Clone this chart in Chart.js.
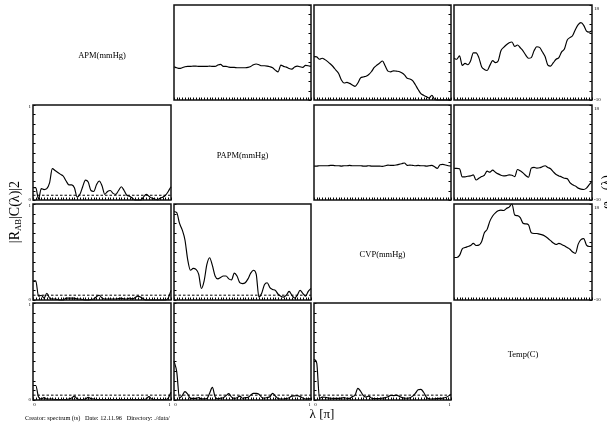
<!DOCTYPE html>
<html>
<head>
<meta charset="utf-8">
<script src="https://cdn.jsdelivr.net/npm/chart.js@4/dist/chart.umd.min.js"></script>
<style>
  html, body { margin:0; padding:0; background:#fff; }
  #wrap { position:relative; width:607px; height:423px; overflow:hidden; background:#fff; font-family:"Liberation Serif","DejaVu Serif",serif; color:#000; }
  .lbl { position:absolute; white-space:pre; line-height:1; }
  canvas { position:absolute; }
</style>
</head>
<body>
<div id="wrap"></div>
<script>
// ---------------- DATA ----------------
const variables = ["APM(mmHg)", "PAPM(mmHg)", "CVP(mmHg)", "Temp(C)"];

const lambda = [0,0.02,0.04,0.06,0.08,0.10,0.12,0.14,0.16,0.18,
                0.20,0.22,0.24,0.26,0.28,0.30,0.32,0.34,0.36,0.38,
                0.40,0.42,0.44,0.46,0.48,0.50,0.52,0.54,0.56,0.58,
                0.60,0.62,0.64,0.66,0.68,0.70,0.72,0.74,0.76,0.78,
                0.80,0.82,0.84,0.86,0.88,0.90,0.92,0.94,0.96,0.98,1.00];

const xTickLabels = ["0", "1"];
const cohTickLabels = ["1", "0"];
const phaseTickLabels = ["18", "-10"];
const cohRange = [0, 1];
const phaseRange = [-10, 18];
const sigLevel = 0.05;

// phase spectra (upper triangle)
const phaseApmPapm = [-0.2,-0.5,-0.7,-0.5,-0.2,-0.1,-0.1,0.0,0.0,-0.1,
  -0.1,-0.1,-0.1,0.0,-0.1,-0.1,0.3,0.5,-0.1,-0.1,
  -0.3,-0.4,-0.4,-0.5,-0.5,-0.5,-0.5,-0.4,-0.1,0.4,
  0.6,0.4,0.1,0.1,0.0,-0.2,-0.5,-1.2,-1.7,0.3,
  -0.1,-0.3,-0.7,-0.9,-0.3,0.0,-0.2,-0.4,0.2,0.1,
  -0.1];
const phaseApmCvp = [2.8,2.7,2.0,2.3,1.9,1.3,0.6,-0.2,-1.2,-2.2,
  -4.1,-5.0,-4.8,-5.1,-5.6,-6.0,-5.0,-3.5,-3.2,-3.0,
  -2.5,-1.6,-0.4,0.3,0.9,1.5,0.0,-1.5,-1.7,-1.4,
  -1.5,-1.6,-2.0,-2.6,-3.6,-3.8,-4.3,-5.5,-6.9,-8.1,
  -8.6,-9.0,-9.4,-8.6,-9.8,-10,-10,-10,-10,-10,
  -9.6];
const phaseApmTemp = [2.3,2.0,3.0,0.2,0.8,0.4,1.5,3.9,3.9,2.5,
  -0.2,-1.0,-1.3,0.2,1.6,1.0,1.5,4.5,5.5,6.3,
  6.9,7.1,5.8,6.2,5.4,4.5,3.2,2.3,2.5,4.5,
  5.7,5.5,4.2,2.8,0.3,0.0,1.0,2.0,2.5,4.2,
  5.0,7.6,8.4,9.0,10.8,12.2,12.8,12.0,10.3,10.0,
  10.4];
const phasePapmCvp = [0.0,0.0,0.1,0.1,0.1,0.1,0.2,0.2,0.1,0.1,
  0.0,0.1,0.1,0.2,0.1,0.1,0.1,0.1,0.0,0.0,
  0.1,0.0,0.0,0.0,0.0,-0.1,0.1,0.3,0.2,0.2,
  0.3,0.5,0.7,0.9,0.2,0.3,0.2,0.1,0.2,0.1,
  0.1,0.0,0.1,0.2,-0.2,-0.7,0.4,0.5,0.3,0.1,
  0.0];
const phasePapmTemp = [-0.7,-0.7,-0.8,-3.2,-3.2,-3.0,-2.9,-2.6,-4.1,-3.6,
  -3.1,-2.7,-1.5,-1.8,-1.2,-1.8,-2.3,-2.7,-2.9,-2.8,
  -2.6,-2.7,-3.1,-1.0,-1.4,-2.0,-2.8,-3.3,-0.6,-0.4,
  -0.6,-0.5,-0.2,0.1,-0.4,-0.8,-1.7,-2.5,-2.9,-3.2,
  -3.6,-3.7,-4.9,-5.5,-5.9,-6.5,-6.8,-6.9,-6.5,-5.5,
  -4.5];
const phaseCvpTemp = [2.4,2.4,3.0,4.9,5.3,5.6,5.9,6.5,5.9,6.0,
  7.0,9.6,10.6,13.0,14.5,15.4,16.0,16.2,16.1,16.7,
  17.1,18.0,14.8,14.6,14.0,12.4,12.2,11.9,9.6,9.4,
  9.4,9.2,9.0,8.6,8.0,7.3,6.6,6.2,6.5,6.2,
  5.8,5.3,4.8,4.0,3.6,6.3,7.6,7.9,6.0,5.6,
  5.6];

// squared coherence (lower triangle)
const cohApmPapm = [.13,.13,.01,.12,.11,.12,.18,.33,.31,.29,
  .27,.25,.20,.16,.16,.13,.03,.06,.14,.21,
  .19,.10,.09,.16,.20,.15,.06,.09,.10,.07,
  .06,.10,.14,.10,.05,.04,.02,0,0,0,
  .03,.06,.04,.02,.01,.003,.018,.03,.05,.09,
  .14];
const cohApmCvp = [.2,.2,.04,.05,.02,.07,.02,.01,.01,.005,
  0,0,.02,.02,.02,.02,.01,.01,.005,0,
  0,.005,.01,.035,.05,.02,.01,.01,.01,.01,
  .01,.015,.02,.01,.01,.02,.01,.025,.04,.03,
  .012,0,0,0,0,0,0,0,0,.02,
  .1];
const cohApmTemp = [.15,.15,.03,.01,.025,.01,.01,.01,.005,.005,
  .005,.005,.005,.01,.02,.04,.01,.005,.005,.01,
  .027,.015,.01,.005,.005,.005,.005,.005,.005,.005,
  .005,.005,.005,.005,.005,.005,.005,.005,.005,.005,
  .005,.01,.035,.01,.005,.005,.005,.005,.005,.02,
  .08];
const cohPapmCvp = [.92,.91,.80,.73,.625,.42,.31,.33,.32,.27,
  .12,.20,.37,.44,.36,.25,.22,.235,.25,.25,
  .22,.21,.28,.25,.18,.17,.18,.22,.28,.31,
  .27,.03,.07,.16,.18,.13,.11,.10,.06,.04,
  .03,.05,.09,.05,.02,.05,.10,.07,.04,.09,
  .12];
const cohPapmTemp = [.40,.29,.02,.045,.086,.06,.017,.017,.017,.025,
  .01,.012,.015,.07,.13,.034,.012,.02,.024,.045,
  .065,.03,.017,.024,.04,.018,.024,.027,.05,.068,
  .068,.06,.027,.018,.025,.034,.069,.04,.014,.01,
  .01,.015,.024,.04,.043,.045,.035,.02,.01,.012,
  .014];
const cohCvpTemp = [.42,.38,.017,.03,.028,.022,.018,.017,.017,.017,
  .02,.025,.017,.017,.035,.052,.12,.09,.045,.03,
  .04,.018,.015,.014,.016,.02,.025,.034,.047,.045,
  .05,.04,.027,.02,.018,.022,.04,.07,.105,.11,
  .08,.03,.012,.01,.012,.015,.017,.02,.025,.04,
  .06];

// ---------------- LAYOUT ----------------
const COLS = [[33,171],[174,311],[314,451],[454,592]];
const ROWS = [[5,100],[105,200],[204,300],[303,400]];
const wrap = document.getElementById('wrap');

function addText(txt, x, y, size, opts = {}) {
  const d = document.createElement('div');
  d.className = 'lbl';
  d.style.fontSize = size + 'px';
  if (opts.html) d.innerHTML = txt; else d.textContent = txt;
  d.style.left = x + 'px';
  d.style.top = y + 'px';
  let tf = '';
  const ax = opts.anchorX ?? 0, ay = opts.anchorY ?? 0;
  tf += `translate(${-ax*100}%, ${-ay*100}%)`;
  if (opts.rotate) { d.style.transformOrigin = '0 0'; }
  d.style.transform = tf;
  wrap.appendChild(d);
  return d;
}

const framePlugin = {
  id: 'frame',
  afterDatasetsDraw(chart, args, o) {
    const { ctx, chartArea: a, scales: { x, y } } = chart;
    ctx.save();
    ctx.strokeStyle = '#000';
    ctx.lineWidth = 1;
    ctx.beginPath();
    lambda.forEach(v => {
      const px = Math.round(x.getPixelForValue(v)) + 0.5;
      ctx.moveTo(px, a.bottom); ctx.lineTo(px, a.bottom - 2.5);
    });
    const [ymin, ymax] = o.range;
    for (let i = 0; i <= 10; i++) {
      const py = Math.round(y.getPixelForValue(ymin + (ymax - ymin) * i / 10)) + 0.5;
      if (o.side === 'left') { ctx.moveTo(a.left, py); ctx.lineTo(a.left + 2.5, py); }
      else { ctx.moveTo(a.right, py); ctx.lineTo(a.right - 2.5, py); }
    }
    ctx.stroke();
    ctx.lineWidth = 1.5;
    ctx.strokeStyle = '#111';
    ctx.strokeRect(a.left, a.top, a.right - a.left, a.bottom - a.top);
    ctx.restore();
  }
};

function makePanel(col, row, values, kind) {
  const pad = 4;
  const [x0, x1] = COLS[col], [y0, y1] = ROWS[row];
  const w = x1 - x0 + 2 * pad, h = y1 - y0 + 2 * pad;
  const cv = document.createElement('canvas');
  cv.width = w; cv.height = h;
  cv.style.left = (x0 - pad) + 'px';
  cv.style.top = (y0 - pad) + 'px';
  cv.style.width = w + 'px'; cv.style.height = h + 'px';
  wrap.appendChild(cv);
  const range = kind === 'coh' ? cohRange : phaseRange;
  const datasets = [{
    data: lambda.map((l, i) => ({ x: l, y: values[i] })),
    borderColor: '#000', borderWidth: 1.15, pointRadius: 0,
    cubicInterpolationMode: 'monotone', clip: 1
  }];
  if (kind === 'coh') {
    datasets.push({
      data: [{ x: lambda[0], y: sigLevel }, { x: lambda[lambda.length - 1], y: sigLevel }],
      borderColor: '#000', borderWidth: 1, borderDash: [2.5, 2], pointRadius: 0
    });
  }
  new Chart(cv, {
    type: 'line',
    data: { datasets },
    options: {
      responsive: false, animation: false, devicePixelRatio: 1,
      layout: { padding: pad },
      plugins: { legend: { display: false }, tooltip: { enabled: false },
                 frame: { range, side: kind === 'coh' ? 'left' : 'right' } },
      scales: {
        x: { type: 'linear', min: 0, max: 1, display: false },
        y: { type: 'linear', min: range[0], max: range[1], display: false }
      }
    },
    plugins: [framePlugin]
  });
}

// upper triangle: phase
makePanel(1, 0, phaseApmPapm, 'phase');
makePanel(2, 0, phaseApmCvp, 'phase');
makePanel(3, 0, phaseApmTemp, 'phase');
makePanel(2, 1, phasePapmCvp, 'phase');
makePanel(3, 1, phasePapmTemp, 'phase');
makePanel(3, 2, phaseCvpTemp, 'phase');
// lower triangle: coherence
makePanel(0, 1, cohApmPapm, 'coh');
makePanel(0, 2, cohApmCvp, 'coh');
makePanel(1, 2, cohPapmCvp, 'coh');
makePanel(0, 3, cohApmTemp, 'coh');
makePanel(1, 3, cohPapmTemp, 'coh');
makePanel(2, 3, cohCvpTemp, 'coh');

// diagonal variable names
variables.forEach((name, i) => {
  const cx = (COLS[i][0] + COLS[i][1]) / 2;
  const cy = (ROWS[i][0] + ROWS[i][1]) / 2 + 2;
  addText(name, cx, cy, 8.5, { anchorX: 0.5, anchorY: 0.5 });
});

// coherence y tick labels (column 1)
[1, 2, 3].forEach(r => {
  addText(cohTickLabels[0], 31, ROWS[r][0] + 1, 5, { anchorX: 1, anchorY: 0.5 });
  addText(cohTickLabels[1], 31, ROWS[r][1] - 1, 5, { anchorX: 1, anchorY: 0.5 });
});
// phase y tick labels (column 4)
[0, 1, 2].forEach(r => {
  addText(phaseTickLabels[0], 594, ROWS[r][0] + 3, 5, { anchorX: 0, anchorY: 0.5 });
  addText(phaseTickLabels[1], 594, ROWS[r][1] - 1, 5, { anchorX: 0, anchorY: 0.5 });
});
// x tick labels under bottom row
[0, 1, 2].forEach(c => {
  addText(xTickLabels[0], COLS[c][0] + 1.5, 404, 5, { anchorX: 0.5, anchorY: 0.5 });
  addText(xTickLabels[1], COLS[c][1] - 1.5, 404, 5, { anchorX: 0.5, anchorY: 0.5 });
});

// axis titles
const yl = addText('|R<span style="font-size:0.62em;vertical-align:-0.25em">AB</span>|C(λ)|2', 0, 0, 14, { html: true });
yl.style.transform = 'translate(-50%,-50%) rotate(-90deg)';
yl.style.left = '15px'; yl.style.top = '212px';

const yr = addText('φ<span style="font-size:0.62em;vertical-align:-0.3em">AB</span>(λ)', 0, 0, 13, { html: true });
yr.style.transform = 'translate(-50%,-50%) rotate(-90deg)';
yr.style.left = '607px'; yr.style.top = '192px';

addText('λ [π]', 322, 413, 13, { anchorX: 0.5, anchorY: 0.5 });
addText('Creator: spectrum (ts)   Date: 12.11.96   Directory: ./data/', 25, 418, 6.3, { anchorX: 0, anchorY: 0.5 });
</script>
</body>
</html>
